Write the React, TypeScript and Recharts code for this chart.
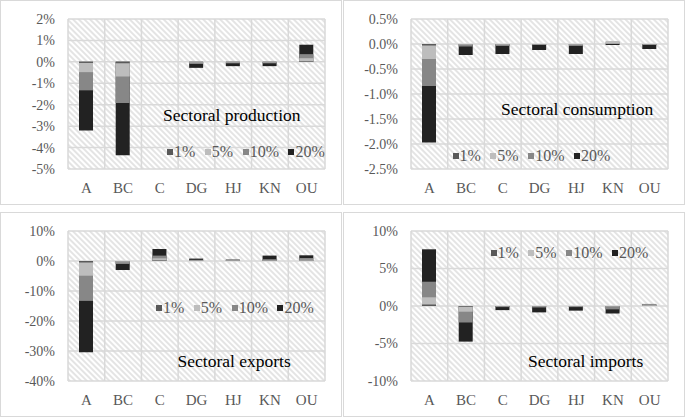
import { BarChart, Bar, XAxis, YAxis, CartesianGrid, Legend } from "recharts";

// sectors and shock scenarios
const sectors = ["A", "BC", "C", "DG", "HJ", "KN", "OU"];
const scenarios = ["1%", "5%", "10%", "20%"];

// sectoral production, % change
const prod1 = [-0.05, -0.07, 0, -0.02, -0.01, -0.01, 0.03];
const prod5 = [-0.48, -0.68, 0, -0.05, -0.03, -0.03, 0.17];
const prod10 = [-1.33, -1.92, 0, -0.1, -0.07, -0.07, 0.36];
const prod20 = [-3.2, -4.36, 0, -0.28, -0.2, -0.2, 0.8];

// sectoral consumption
const cons1 = [-0.03, -0.005, -0.005, -0.003, -0.005, 0.005, -0.003];
const cons5 = [-0.3, -0.02, -0.02, -0.01, -0.02, 0.06, -0.01];
const cons10 = [-0.84, -0.05, -0.04, -0.02, -0.04, 0.04, -0.02];
const cons20 = [-1.97, -0.22, -0.2, -0.12, -0.2, -0.02, -0.1];

// sectoral exports
const exp1 = [-0.5, -0.1, 0.2, 0.05, 0.05, 0.1, 0.1];
const exp5 = [-4.9, -0.4, 0.9, 0.2, 0.2, 0.3, 0.4];
const exp10 = [-13.3, -1.0, 1.8, 0.4, 0.5, 0.6, 1.0];
const exp20 = [-30.4, -3.0, 4.0, 0.8, 0.45, 1.8, 1.9];

// sectoral imports
const imp1 = [0.2, -0.1, -0.02, -0.03, -0.02, -0.03, 0.03];
const imp5 = [1.16, -0.76, -0.05, -0.08, -0.05, -0.1, 0.15];
const imp10 = [3.24, -2.2, -0.15, -0.2, -0.15, -0.45, 0.28];
const imp20 = [7.56, -4.75, -0.55, -0.85, -0.62, -1.0, 0.25];

const COLORS = ["#595959", "#bdbdbd", "#878787", "#222222"];
const FONT = '"Liberation Serif", "Times New Roman", serif';

const makeRows = (series) =>
  sectors.map((s, i) => ({
    sector: s,
    s1: series[0][i],
    s5: series[1][i],
    s10: series[2][i],
    s20: series[3][i],
  }));

const KEYS = ["s1", "s5", "s10", "s20"];

function LegendBox() {
  return (
    <div style={{ display: "flex", alignItems: "center", fontFamily: FONT, fontSize: 16, lineHeight: "16px", color: "#595959", whiteSpace: "nowrap" }}>
      {scenarios.map((s, i) => (
        <div key={s} style={{ display: "flex", alignItems: "center", marginRight: 9.5 }}>
          <span style={{ width: 6, height: 6, background: COLORS[i], marginRight: 1, display: "inline-block" }} />
          <span>{s}</span>
        </div>
      ))}
    </div>
  );
}

function Panel({ left, top, title, series, domain, ticks, fmt, titleX, titleY, legX, legY }) {
  const rows = makeRows(series);
  return (
    <div style={{ position: "absolute", left, top, width: 342, height: 205, boxSizing: "border-box", border: "1px solid #d9d9d9", background: "#fff" }}>
      <BarChart width={340} height={203} data={rows} margin={{ top: 18, right: 16, bottom: 5, left: 0 }} barSize={14} barGap={-14}>
        <CartesianGrid
          stroke="#d9d9d9"
          strokeWidth={1.5}
          fill="url(#hatch)"
          fillOpacity={1}
          verticalCoordinatesGenerator={({ offset }) =>
            sectors.map((_, i) => offset.left + (i * offset.width) / sectors.length).concat(offset.left + offset.width)
          }
        />
        <XAxis dataKey="sector" interval={0} tickLine={false} axisLine={false} tickSize={0} tickMargin={13} height={30}
          tick={{ fontFamily: FONT, fontSize: 15, fill: "#595959" }} />
        <YAxis type="number" domain={domain} ticks={ticks} interval={0} tickFormatter={fmt} tickLine={false} axisLine={false}
          tickSize={0} tickMargin={13} width={67} tick={{ fontFamily: FONT, fontSize: 14, fill: "#595959" }} />
        {/* largest shock drawn first, smaller ones overlaid on top */}
        {[3, 2, 1, 0].map((i) => (
          <Bar key={KEYS[i]} dataKey={KEYS[i]} name={scenarios[i]} fill={COLORS[i]} isAnimationActive={false} />
        ))}
        <Legend verticalAlign="middle" align="center" layout="horizontal"
          wrapperStyle={{ left: legX, top: legY - 8, width: "auto", height: "auto" }}
          content={() => <LegendBox />} />
      </BarChart>
      <svg width={340} height={203} style={{ position: "absolute", left: 0, top: 0, pointerEvents: "none" }}>
        <text x={titleX} y={titleY} fontFamily={FONT} fontSize={17.5} fill="#000">{title}</text>
      </svg>
    </div>
  );
}

const pct0 = (v) => `${v}%`;
const pct1 = (v) => `${v.toFixed(1)}%`;

export default function App() {
  return (
    <div style={{ position: "fixed", left: 0, top: 0, width: 685, height: 418, background: "#fff" }}>
      <svg width={0} height={0} style={{ position: "absolute" }}>
        <defs>
          <pattern id="hatch" patternUnits="userSpaceOnUse" width={4} height={4} patternTransform="rotate(-45)">
            <rect width={4} height={4} fill="#ffffff" />
            <line x1={2} y1={0} x2={2} y2={4} stroke="#d6d6d6" strokeWidth={1.3} />
          </pattern>
        </defs>
      </svg>
      <Panel left={0} top={0} title="Sectoral production" series={[prod1, prod5, prod10, prod20]}
        domain={[-5, 2]} ticks={[-5, -4, -3, -2, -1, 0, 1, 2]} fmt={pct0}
        titleX={162} titleY={119.5} legX={166} legY={150.7} />
      <Panel left={343} top={0} title="Sectoral consumption" series={[cons1, cons5, cons10, cons20]}
        domain={[-2.5, 0.5]} ticks={[-2.5, -2, -1.5, -1, -0.5, 0, 0.5]} fmt={pct1}
        titleX={157} titleY={114} legX={108.5} legY={155} />
      <Panel left={0} top={212} title="Sectoral exports" series={[exp1, exp5, exp10, exp20]}
        domain={[-40, 10]} ticks={[-40, -30, -20, -10, 0, 10]} fmt={pct0}
        titleX={176.5} titleY={153.5} legX={155} legY={94.7} />
      <Panel left={343} top={212} title="Sectoral imports" series={[imp1, imp5, imp10, imp20]}
        domain={[-10, 10]} ticks={[-10, -5, 0, 5, 10]} fmt={pct0}
        titleX={184} titleY={153.5} legX={146.5} legY={40.3} />
    </div>
  );
}
